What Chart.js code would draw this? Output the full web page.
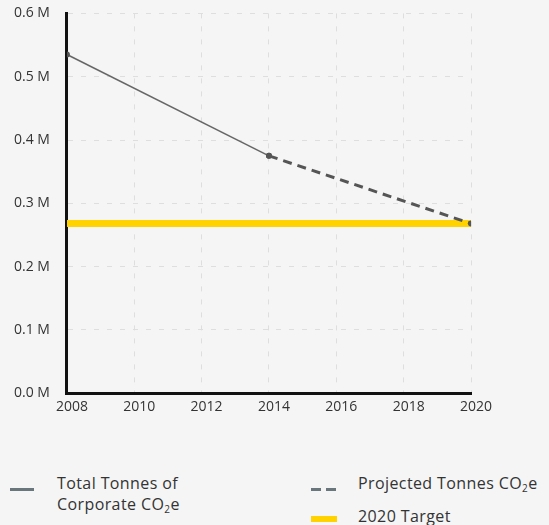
<!DOCTYPE html>
<html>
<head>
<meta charset="utf-8">
<script src="https://cdn.jsdelivr.net/npm/chart.js@4/dist/chart.umd.min.js"></script>
<style>
  html, body { margin: 0; padding: 0; background: #f5f5f5; }
  #wrap { position: relative; width: 549px; height: 525px; overflow: hidden; font-family: "Open Sans", sans-serif; color: #333; }
  #c { position: absolute; left: -11px; top: -12px; }
  .lg { position: absolute; font-size: 16px; letter-spacing: 0.4px; line-height: 21px; color: #333; white-space: nowrap; }
  .mk { position: absolute; height: 0; }
  sub { font-size: 10px; vertical-align: -3px; line-height: 0; }
</style>
</head>
<body>
<div id="wrap">
  <canvas id="c" width="552" height="432"></canvas>
  <div class="mk" style="left:10px;top:488px;width:24px;border-top:3px solid #69767b;"></div>
  <div class="lg" style="left:57px;top:473px;">Total Tonnes of<br>Corporate CO<sub>2</sub>e</div>
  <div class="mk" style="left:311px;top:488px;width:10px;border-top:3px solid #69767b;"></div>
  <div class="mk" style="left:326px;top:488px;width:10px;border-top:3px solid #69767b;"></div>
  <div class="lg" style="left:358px;top:473px;">Projected Tonnes CO<sub>2</sub>e</div>
  <div class="mk" style="left:311px;top:516px;width:26px;border-top:6px solid #ffd200;"></div>
  <div class="lg" style="left:358px;top:506px;">2020 Target</div>
</div>
<script>
const totalYears = [2008, 2014];
const totalValues = [535000, 375000];
const projectedYears = [2014, 2020];
const projectedValues = [375000, 268000];
const targetYears = [2008, 2020];
const targetValues = [268000, 268000];
const seriesLabels = ["Total Tonnes of Corporate CO\u2082e", "Projected Tonnes CO\u2082e", "2020 Target"];

function pts(xs, ys) { return xs.map((x, i) => ({ x: x, y: ys[i] })); }

new Chart(document.getElementById('c'), {
  type: 'line',
  data: {
    datasets: [
      { label: seriesLabels[0], data: pts(totalYears, totalValues), borderColor: '#666', borderWidth: 1.5,
        pointRadius: 3, pointBackgroundColor: '#555', pointBorderWidth: 0, order: 1 },
      { label: seriesLabels[1], data: pts(projectedYears, projectedValues), borderColor: '#555', borderWidth: 3,
        borderDash: [9, 6], pointRadius: 3, pointBackgroundColor: '#555', pointBorderWidth: 0, order: 2 },
      { label: seriesLabels[2], data: pts(targetYears, targetValues), borderColor: '#ffd200', borderWidth: 7,
        pointRadius: 0, order: 3 }
    ]
  },
  options: {
    responsive: false,
    animation: false,
    layout: { padding: { left: 8, right: 70, top: 8, bottom: 0 } },
    plugins: { legend: { display: false }, tooltip: { enabled: false } },
    scales: {
      x: {
        type: 'linear', min: 2008, max: 2020,
        ticks: { stepSize: 2, color: '#333', font: { family: 'Open Sans', size: 14 }, padding: 5, labelOffset: 5,
                 callback: v => String(v) },
        grid: { color: '#dedede', drawTicks: false },
        border: { color: '#111', width: 3, dash: [5, 8] }
      },
      y: {
        min: 0, max: 600000,
        ticks: { stepSize: 100000, color: '#333', font: { family: 'Open Sans', size: 14 }, padding: 17,
                 callback: v => (v / 1000000).toFixed(1) + ' M' },
        grid: { color: '#dedede', drawTicks: false },
        border: { color: '#111', width: 3, dash: [5, 8] }
      }
    }
  }
});
</script>
</body>
</html>
